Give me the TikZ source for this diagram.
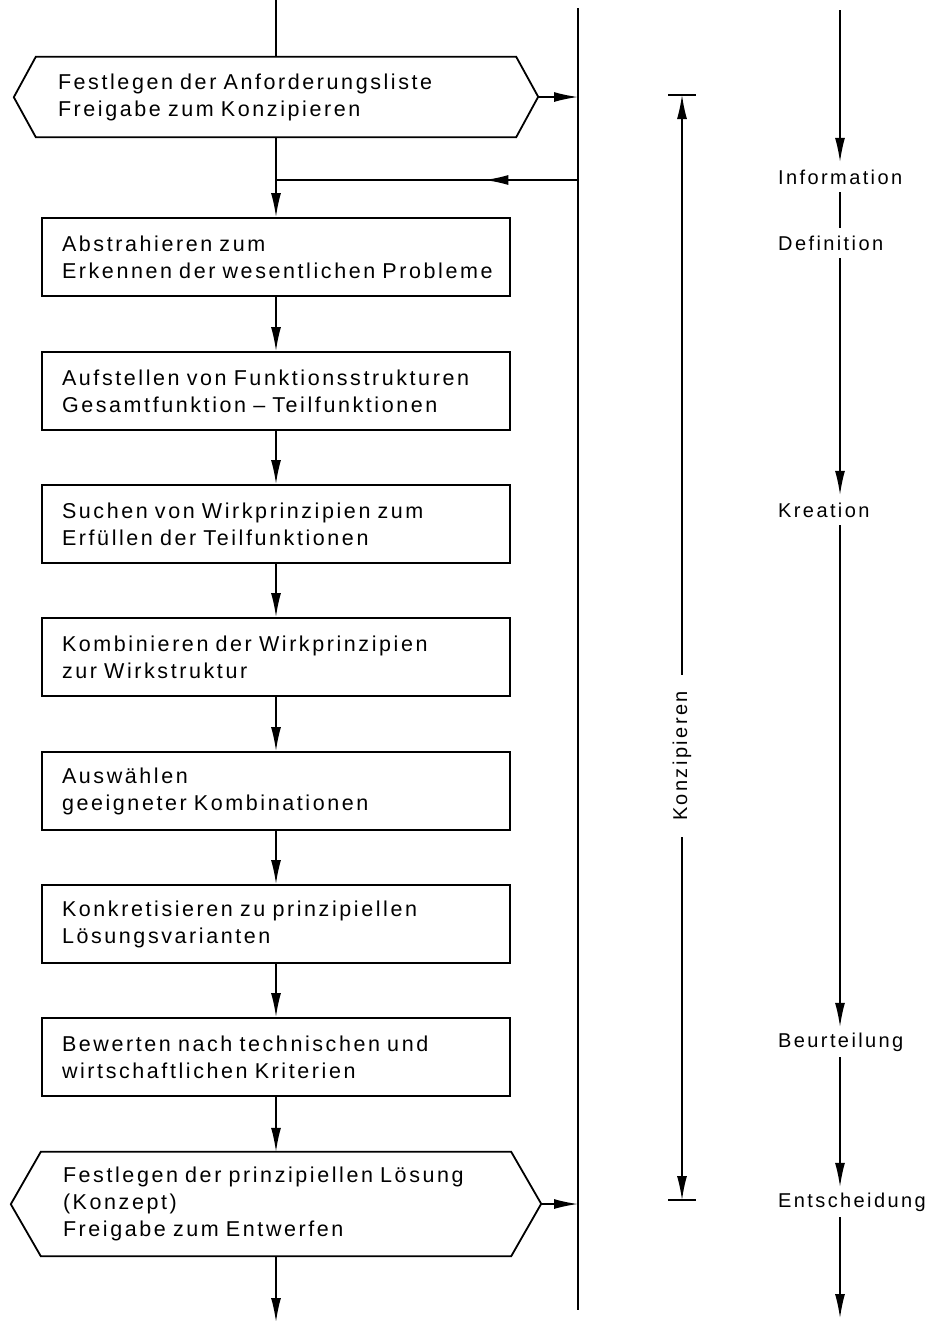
\documentclass[tikz,border=0pt]{standalone}
\usepackage{fontspec}
\newfontfamily\flowfont{Liberation Sans}[LetterSpace=12, WordSpace=2.5]
\usetikzlibrary{arrows.meta,decorations.markings}

\begin{document}
\begin{tikzpicture}[x=1pt, y=-1pt, >={Latex[length=24pt,width=10pt]},
  every node/.style={font=\flowfont\fontsize{21.5pt}{27pt}\selectfont},
  stepbox/.style={draw, line width=1.8pt, text width=446pt, inner xsep=11pt,
    minimum height=78pt, align=left, execute at begin node={\leftskip=9pt}},
  hexbox/.style={inner xsep=22pt, align=left},
  hexline/.style={line width=1.8pt, line join=miter},
  flow/.style={line width=1.6pt},
  side/.style={line width=1.3pt},
  phase/.style={anchor=west, inner sep=0pt, minimum height=30pt,
    font=\flowfont\fontsize{20pt}{24pt}\selectfont}]
  \useasboundingbox (0,0) rectangle (934,1326);

  % left column: steps
  \coordinate (top) at (276,0);
  \node[hexbox, text width=436pt, minimum height=80pt] (anf) at (276,97)
    {Festlegen der Anforderungsliste\\Freigabe zum Konzipieren};
  \draw[hexline] (anf.north west) -- (anf.north east) -- ++(22,40)
    -- (anf.south east) -- (anf.south west) -- ++(-22,-40) -- cycle;
  \coordinate (anftip) at ([xshift=22pt]anf.east);

  \node[stepbox] (abs) at (276,257) {Abstrahieren zum\\Erkennen der wesentlichen Probleme};
  \node[stepbox] (fkt) at (276,391) {Aufstellen von Funktionsstrukturen\\Gesamtfunktion \textendash{} Teilfunktionen};
  \node[stepbox] (such) at (276,524) {Suchen von Wirkprinzipien zum\\Erfüllen der Teilfunktionen};
  \node[stepbox] (komb) at (276,657) {Kombinieren der Wirkprinzipien\\zur Wirkstruktur};
  \node[stepbox] (ausw) at (276,791) {Auswählen\\geeigneter Kombinationen};
  \node[stepbox] (konk) at (276,924) {Konkretisieren zu prinzipiellen\\Lösungsvarianten};
  \node[stepbox] (bew) at (276,1057) {Bewerten nach technischen und\\wirtschaftlichen Kriterien};

  \node[hexbox, text width=426pt, minimum height=104pt] (fest) at (276,1204)
    {Festlegen der prinzipiellen Lösung\\(Konzept)\\Freigabe zum Entwerfen};
  \draw[hexline] (fest.north west) -- (fest.north east) -- ++(30,52)
    -- (fest.south east) -- (fest.south west) -- ++(-30,-52) -- cycle;
  \coordinate (festtip) at ([xshift=30pt]fest.east);
  \coordinate (bottom) at (276,1322);

  \draw[flow] (top) -- (anf.north);
  \draw[flow,->] (anf.south) -- (abs.north);
  \draw[flow,->] (abs.south) -- (fkt.north);
  \draw[flow,->] (fkt.south) -- (such.north);
  \draw[flow,->] (such.south) -- (komb.north);
  \draw[flow,->] (komb.south) -- (ausw.north);
  \draw[flow,->] (ausw.south) -- (konk.north);
  \draw[flow,->] (konk.south) -- (bew.north);
  \draw[flow,->] (bew.south) -- (fest.north);
  \draw[flow,->] (fest.south) -- (bottom);

  % information line
  \coordinate (rltop) at (578,8);
  \coordinate (rlbot) at (578,1310);
  \coordinate (fb) at (578,180);
  \draw[flow] (rltop) -- (rlbot);
  \draw[flow,->] (anftip) -- (anftip -| rltop);
  \draw[flow,->] (festtip) -- (festtip -| rltop);
  \draw[flow, postaction=decorate,
    decoration={markings, mark=at position 0.31 with {\arrow{>}}}]
    (fb) -- (fb -| anf.south);

  % Konzipieren span
  \coordinate (dtop) at (682,95);
  \coordinate (dbot) at (682,1200);
  \node[rotate=90, inner xsep=16pt, font=\flowfont\fontsize{20pt}{24pt}\selectfont]
    (konz) at (682,756) {Konzipieren};
  \draw[side,->] (konz.east) -- (dtop);
  \draw[side,->] (konz.west) -- (dbot);
  \draw[side] ([xshift=-14pt]dtop) -- ([xshift=14pt]dtop);
  \draw[side] ([xshift=-14pt]dbot) -- ([xshift=14pt]dbot);

  % right column: phases
  \coordinate (ptop) at (840,10);
  \coordinate (pend) at (840,1318);
  \node[phase] (info) at (778,177) {Information};
  \node[phase] (defi) at (778,243) {Definition};
  \node[phase] (krea) at (778,510) {Kreation};
  \node[phase] (beur) at (778,1042) {Beurteilung};
  \node[phase] (ents) at (778,1202) {Entscheidung};
  \draw[side,->] (ptop) -- (ptop |- info.north);
  \draw[side] (ptop |- info.south) -- (ptop |- defi.north);
  \draw[side,->] (ptop |- defi.south) -- (ptop |- krea.north);
  \draw[side,->] (ptop |- krea.south) -- (ptop |- beur.north);
  \draw[side,->] (ptop |- beur.south) -- (ptop |- ents.north);
  \draw[side,->] (ptop |- ents.south) -- (pend);
\end{tikzpicture}
\end{document}
